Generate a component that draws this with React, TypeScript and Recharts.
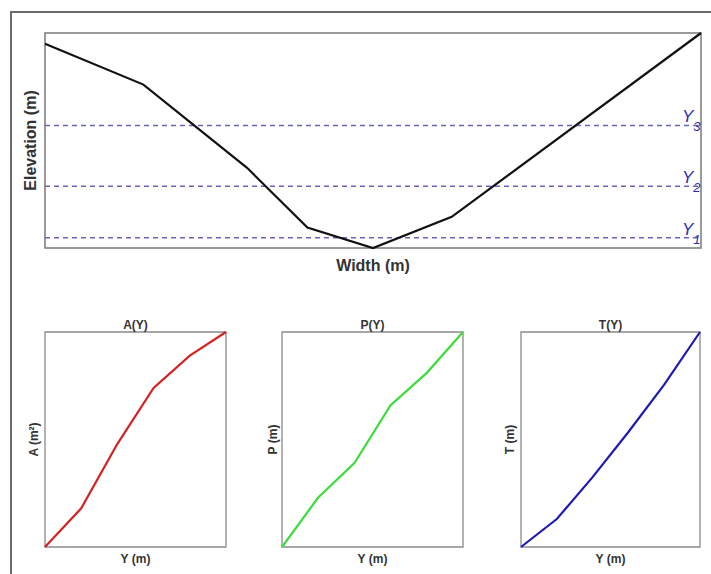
import React from "react";
import { LineChart, Line, XAxis, YAxis, ReferenceArea, ReferenceLine } from "recharts";

// cross-section profile
const widths = [0, 15, 30.8, 40, 50, 62, 100];
const elevations = [9.5, 7.6, 3.73, 0.95, 0, 1.45, 10];
const levelNames = ["1", "2", "3"];
const levels = [0.48, 2.87, 5.7];

// hydraulic functions of depth
const depths = [0, 1, 2, 3, 4, 5];
const areaValues = [0, 18, 48, 74, 89, 100];
const perimeterValues = [0, 23, 39, 66, 81, 100];
const topWidthValues = [0, 13, 32.5, 53.5, 75.5, 100];

const font = "'Liberation Sans', Arial, sans-serif";
const labelStyle = { fontFamily: font, fontWeight: 700, fill: "#333" };

const profile = widths.map((w, i) => ({ w, e: elevations[i] }));

function YTag(props: any) {
    const vb = props.viewBox || {};
    const x = vb.x + vb.width - 19;
    return (
        <text x={x} y={vb.y - 3} style={{ fill: "#2e2eb0", fontStyle: "italic", fontSize: 17, fontFamily: font }}>
            Y
            <tspan dy={9} style={{ fontSize: 13 }}>
                {props.sub}
            </tspan>
        </text>
    );
}

function Panel(props: {
    left: number;
    plotWidth: number;
    title: string;
    yLabel: React.ReactNode;
    yLabelOffset: number;
    values: number[];
    color: string;
}) {
    const data = depths.map((d, i) => ({ d, v: props.values[i] }));
    return (
        <div style={{ position: "absolute", left: props.left - 45, top: 300 }}>
            <LineChart width={45 + props.plotWidth + 10} height={274} data={data} margin={{ top: 32, right: 10, left: 0, bottom: 0 }}>
                <XAxis
                    type="number"
                    dataKey="d"
                    domain={[0, 5]}
                    tick={false}
                    tickLine={false}
                    axisLine={false}
                    height={27}
                    label={{ value: "Y (m)", position: "insideBottom", offset: 11, style: { ...labelStyle, fontSize: 12 } }}
                />
                <YAxis
                    type="number"
                    domain={[0, 100]}
                    tick={false}
                    tickLine={false}
                    axisLine={false}
                    width={45}
                    label={{
                        value: props.yLabel as any,
                        angle: -90,
                        position: "insideLeft",
                        offset: props.yLabelOffset,
                        style: { ...labelStyle, fontSize: 12, textAnchor: "middle" },
                    }}
                />
                <ReferenceArea
                    x1={0}
                    x2={5}
                    y1={0}
                    y2={100}
                    fill="none"
                    stroke="#8a8a8a"
                    strokeWidth={1.3}
                    label={{ value: props.title, position: "top", offset: 3, style: { ...labelStyle, fontSize: 12 } }}
                />
                <Line type="linear" dataKey="v" stroke={props.color} strokeWidth={2.2} dot={false} isAnimationActive={false} />
            </LineChart>
        </div>
    );
}

export default function App() {
    return (
        <div style={{ position: "absolute", left: 0, top: 0, width: 711, height: 574, overflow: "hidden", background: "#fff" }}>
            <div style={{ position: "absolute", left: 10, top: 11, width: 740, height: 620, border: "2px solid #6b6b6b" }} />
            <div style={{ position: "absolute", left: 0, top: 0 }}>
                <LineChart width={711} height={290} data={profile} margin={{ top: 33, right: 10, left: 0, bottom: 0 }}>
                    <XAxis
                        type="number"
                        dataKey="w"
                        domain={[0, 100]}
                        tick={false}
                        tickLine={false}
                        axisLine={false}
                        height={42}
                        label={{ value: "Width (m)", position: "insideBottom", offset: 19, style: { ...labelStyle, fontSize: 16 } }}
                    />
                    <YAxis
                        type="number"
                        domain={[0, 10]}
                        tick={false}
                        tickLine={false}
                        axisLine={false}
                        width={45}
                        label={{
                            value: "Elevation (m)",
                            angle: -90,
                            position: "insideLeft",
                            offset: 30,
                            style: { ...labelStyle, fontSize: 16, textAnchor: "middle" },
                        }}
                    />
                    <ReferenceArea x1={0} x2={100} y1={0} y2={10} fill="none" stroke="#7a7a7a" strokeWidth={1.5} />
                    {levels.map((lv, i) => (
                        <ReferenceLine
                            key={i}
                            y={lv}
                            stroke="#6464bc"
                            strokeWidth={1.6}
                            strokeDasharray="5 4"
                            label={<YTag sub={levelNames[i]} />}
                        />
                    ))}
                    <Line type="linear" dataKey="e" stroke="#111" strokeWidth={2.2} dot={false} isAnimationActive={false} />
                </LineChart>
            </div>
            <Panel left={45} plotWidth={181} title="A(Y)" yLabel="A (m²)" yLabelOffset={34} values={areaValues} color="#d42222" />
            <Panel left={282} plotWidth={181} title="P(Y)" yLabel="P (m)" yLabelOffset={36} values={perimeterValues} color="#3ddc3d" />
            <Panel left={521} plotWidth={179} title="T(Y)" yLabel="T (m)" yLabelOffset={34} values={topWidthValues} color="#1c1cb0" />
        </div>
    );
}
